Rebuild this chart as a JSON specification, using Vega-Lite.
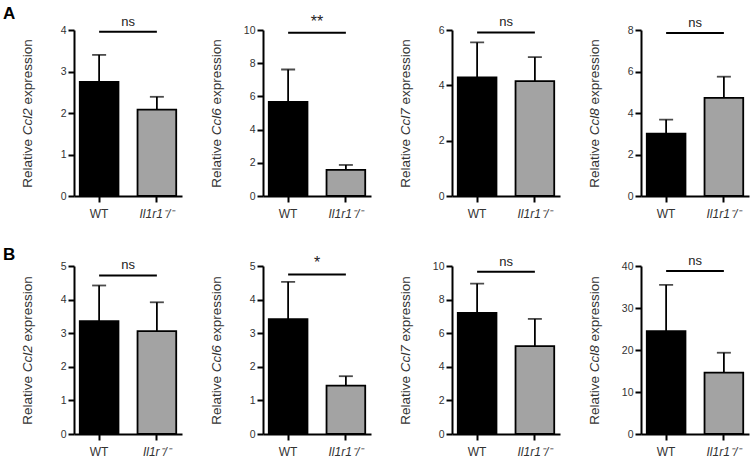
{
"$schema": "https://vega.github.io/schema/vega-lite/v6.json",
"padding": {"left": 3, "right": 3, "top": 4, "bottom": 2},
"background": "white",
"datasets": {
 "bars": [
  {"panel": "A1", "group": "WT", "value": 2.75, "upper": 3.40},
  {"panel": "A1", "group": "KO", "value": 2.08, "upper": 2.39},
  {"panel": "A2", "group": "WT", "value": 5.67, "upper": 7.62},
  {"panel": "A2", "group": "KO", "value": 1.57, "upper": 1.87},
  {"panel": "A3", "group": "WT", "value": 4.29, "upper": 5.55},
  {"panel": "A3", "group": "KO", "value": 4.15, "upper": 5.02},
  {"panel": "A4", "group": "WT", "value": 3.00, "upper": 3.68},
  {"panel": "A4", "group": "KO", "value": 4.73, "upper": 5.75},
  {"panel": "B1", "group": "WT", "value": 3.36, "upper": 4.42},
  {"panel": "B1", "group": "KO", "value": 3.06, "upper": 3.92},
  {"panel": "B2", "group": "WT", "value": 3.42, "upper": 4.53},
  {"panel": "B2", "group": "KO", "value": 1.44, "upper": 1.72},
  {"panel": "B3", "group": "WT", "value": 7.21, "upper": 8.95},
  {"panel": "B3", "group": "KO", "value": 5.23, "upper": 6.85},
  {"panel": "B4", "group": "WT", "value": 24.5, "upper": 35.5},
  {"panel": "B4", "group": "KO", "value": 14.6, "upper": 19.35}
 ],
 "sig": [
  {"panel": "A1", "x1": "WT", "x2": "KO", "y": 3.96, "label": "ns"},
  {"panel": "A2", "x1": "WT", "x2": "KO", "y": 9.84, "label": "**"},
  {"panel": "A3", "x1": "WT", "x2": "KO", "y": 5.91, "label": "ns"},
  {"panel": "A4", "x1": "WT", "x2": "KO", "y": 7.85, "label": "ns"},
  {"panel": "B1", "x1": "WT", "x2": "KO", "y": 4.72, "label": "ns"},
  {"panel": "B2", "x1": "WT", "x2": "KO", "y": 4.75, "label": "*"},
  {"panel": "B3", "x1": "WT", "x2": "KO", "y": 9.66, "label": "ns"},
  {"panel": "B4", "x1": "WT", "x2": "KO", "y": 38.8, "label": "ns"}
 ]
},
"vconcat": [
 {"title": {"text": "A", "anchor": "start", "fontSize": 17, "fontWeight": "bold", "font": "Liberation Sans", "dx": -17, "offset": -9, "color": "black"},
  "hconcat": [
   {"width": 108, "height": 166, "resolve": {"axis": {"y": "independent"}}, "layer": [
    {"data": {"name": "bars"}, "transform": [{"filter": "datum.panel === 'A1'"}], "mark": {"type": "bar", "stroke": "black", "strokeWidth": 1.8},
     "encoding": {"x": {"field": "group", "type": "nominal", "title": null, "scale": {"domain": ["WT", "KO"], "paddingInner": 0.33, "paddingOuter": 0.1}, "axis": {"labelExpr": "datum.value === 'WT' ? 'WT' : 'Il1r1⁻/⁻'", "labelFontStyle": {"condition": {"test": "datum.value === 'WT'", "value": "normal"}, "value": "italic"}}},
      "y": {"field": "value", "type": "quantitative", "scale": {"domain": [0, 4], "nice": false}, "axis": {"orient": "left", "values": [0, 1, 2, 3, 4], "format": "d", "tickCount": 12, "title": "Relative", "titleX": -40, "titleY": 157.27, "titleAlign": "left", "titleBaseline": "bottom", "titleAngle": -90}},
      "fill": {"field": "group", "type": "nominal", "scale": {"domain": ["WT", "KO"], "range": ["#000000", "#a3a3a3"]}, "legend": null}}},
    {"data": {"name": "bars"}, "transform": [{"filter": "datum.panel === 'A1'"}], "mark": {"type": "rule", "strokeWidth": 1.8, "color": "black"},
     "encoding": {"x": {"field": "group", "type": "nominal", "title": null}, "y": {"field": "value", "type": "quantitative", "axis": {"orient": "left", "labels": false, "ticks": false, "domain": false, "title": "Ccl2", "titleFontStyle": "italic", "titleX": -40, "titleY": 104.76, "titleAlign": "left", "titleBaseline": "bottom", "titleAngle": -90}}, "y2": {"field": "upper"}}},
    {"data": {"name": "bars"}, "transform": [{"filter": "datum.panel === 'A1'"}], "mark": {"type": "tick", "color": "black", "thickness": 1.8, "size": 14},
     "encoding": {"x": {"field": "group", "type": "nominal", "title": null}, "y": {"field": "upper", "type": "quantitative", "axis": {"orient": "left", "labels": false, "ticks": false, "domain": false, "title": "expression", "titleX": -40, "titleY": 74.0, "titleAlign": "left", "titleBaseline": "bottom", "titleAngle": -90}}}},
    {"data": {"name": "sig"}, "transform": [{"filter": "datum.panel === 'A1'"}], "mark": {"type": "rule", "strokeWidth": 2, "color": "black"},
     "encoding": {"x": {"field": "x1", "type": "nominal", "title": null}, "x2": {"field": "x2"}, "y": {"field": "y", "type": "quantitative", "axis": null}}},
    {"data": {"name": "sig"}, "transform": [{"filter": "datum.panel === 'A1'"}], "mark": {"type": "text", "baseline": "bottom", "dx": 28.9, "dy": -3, "font": "Liberation Sans", "color": "#222"},
     "encoding": {"x": {"field": "x1", "type": "nominal", "title": null}, "y": {"field": "y", "type": "quantitative", "axis": null}, "text": {"field": "label"}, "size": {"condition": {"test": "datum.label !== 'ns'", "value": 16}, "value": 13}}}
   ]},
   {"width": 108, "height": 166, "resolve": {"axis": {"y": "independent"}}, "layer": [
    {"data": {"name": "bars"}, "transform": [{"filter": "datum.panel === 'A2'"}], "mark": {"type": "bar", "stroke": "black", "strokeWidth": 1.8},
     "encoding": {"x": {"field": "group", "type": "nominal", "title": null, "scale": {"domain": ["WT", "KO"], "paddingInner": 0.33, "paddingOuter": 0.1}, "axis": {"labelExpr": "datum.value === 'WT' ? 'WT' : 'Il1r1⁻/⁻'", "labelFontStyle": {"condition": {"test": "datum.value === 'WT'", "value": "normal"}, "value": "italic"}}},
      "y": {"field": "value", "type": "quantitative", "scale": {"domain": [0, 10], "nice": false}, "axis": {"orient": "left", "values": [0, 2, 4, 6, 8, 10], "format": "d", "tickCount": 12, "title": "Relative", "titleX": -40, "titleY": 157.27, "titleAlign": "left", "titleBaseline": "bottom", "titleAngle": -90}},
      "fill": {"field": "group", "type": "nominal", "scale": {"domain": ["WT", "KO"], "range": ["#000000", "#a3a3a3"]}, "legend": null}}},
    {"data": {"name": "bars"}, "transform": [{"filter": "datum.panel === 'A2'"}], "mark": {"type": "rule", "strokeWidth": 1.8, "color": "black"},
     "encoding": {"x": {"field": "group", "type": "nominal", "title": null}, "y": {"field": "value", "type": "quantitative", "axis": {"orient": "left", "labels": false, "ticks": false, "domain": false, "title": "Ccl6", "titleFontStyle": "italic", "titleX": -40, "titleY": 104.76, "titleAlign": "left", "titleBaseline": "bottom", "titleAngle": -90}}, "y2": {"field": "upper"}}},
    {"data": {"name": "bars"}, "transform": [{"filter": "datum.panel === 'A2'"}], "mark": {"type": "tick", "color": "black", "thickness": 1.8, "size": 14},
     "encoding": {"x": {"field": "group", "type": "nominal", "title": null}, "y": {"field": "upper", "type": "quantitative", "axis": {"orient": "left", "labels": false, "ticks": false, "domain": false, "title": "expression", "titleX": -40, "titleY": 74.0, "titleAlign": "left", "titleBaseline": "bottom", "titleAngle": -90}}}},
    {"data": {"name": "sig"}, "transform": [{"filter": "datum.panel === 'A2'"}], "mark": {"type": "rule", "strokeWidth": 2, "color": "black"},
     "encoding": {"x": {"field": "x1", "type": "nominal", "title": null}, "x2": {"field": "x2"}, "y": {"field": "y", "type": "quantitative", "axis": null}}},
    {"data": {"name": "sig"}, "transform": [{"filter": "datum.panel === 'A2'"}], "mark": {"type": "text", "baseline": "bottom", "dx": 28.9, "dy": -3, "font": "Liberation Sans", "color": "#222"},
     "encoding": {"x": {"field": "x1", "type": "nominal", "title": null}, "y": {"field": "y", "type": "quantitative", "axis": null}, "text": {"field": "label"}, "size": {"condition": {"test": "datum.label !== 'ns'", "value": 16}, "value": 13}}}
   ]},
   {"width": 108, "height": 166, "resolve": {"axis": {"y": "independent"}}, "layer": [
    {"data": {"name": "bars"}, "transform": [{"filter": "datum.panel === 'A3'"}], "mark": {"type": "bar", "stroke": "black", "strokeWidth": 1.8},
     "encoding": {"x": {"field": "group", "type": "nominal", "title": null, "scale": {"domain": ["WT", "KO"], "paddingInner": 0.33, "paddingOuter": 0.1}, "axis": {"labelExpr": "datum.value === 'WT' ? 'WT' : 'Il1r1⁻/⁻'", "labelFontStyle": {"condition": {"test": "datum.value === 'WT'", "value": "normal"}, "value": "italic"}}},
      "y": {"field": "value", "type": "quantitative", "scale": {"domain": [0, 6], "nice": false}, "axis": {"orient": "left", "values": [0, 2, 4, 6], "format": "d", "tickCount": 12, "title": "Relative", "titleX": -40, "titleY": 157.27, "titleAlign": "left", "titleBaseline": "bottom", "titleAngle": -90}},
      "fill": {"field": "group", "type": "nominal", "scale": {"domain": ["WT", "KO"], "range": ["#000000", "#a3a3a3"]}, "legend": null}}},
    {"data": {"name": "bars"}, "transform": [{"filter": "datum.panel === 'A3'"}], "mark": {"type": "rule", "strokeWidth": 1.8, "color": "black"},
     "encoding": {"x": {"field": "group", "type": "nominal", "title": null}, "y": {"field": "value", "type": "quantitative", "axis": {"orient": "left", "labels": false, "ticks": false, "domain": false, "title": "Ccl7", "titleFontStyle": "italic", "titleX": -40, "titleY": 104.76, "titleAlign": "left", "titleBaseline": "bottom", "titleAngle": -90}}, "y2": {"field": "upper"}}},
    {"data": {"name": "bars"}, "transform": [{"filter": "datum.panel === 'A3'"}], "mark": {"type": "tick", "color": "black", "thickness": 1.8, "size": 14},
     "encoding": {"x": {"field": "group", "type": "nominal", "title": null}, "y": {"field": "upper", "type": "quantitative", "axis": {"orient": "left", "labels": false, "ticks": false, "domain": false, "title": "expression", "titleX": -40, "titleY": 74.0, "titleAlign": "left", "titleBaseline": "bottom", "titleAngle": -90}}}},
    {"data": {"name": "sig"}, "transform": [{"filter": "datum.panel === 'A3'"}], "mark": {"type": "rule", "strokeWidth": 2, "color": "black"},
     "encoding": {"x": {"field": "x1", "type": "nominal", "title": null}, "x2": {"field": "x2"}, "y": {"field": "y", "type": "quantitative", "axis": null}}},
    {"data": {"name": "sig"}, "transform": [{"filter": "datum.panel === 'A3'"}], "mark": {"type": "text", "baseline": "bottom", "dx": 28.9, "dy": -3, "font": "Liberation Sans", "color": "#222"},
     "encoding": {"x": {"field": "x1", "type": "nominal", "title": null}, "y": {"field": "y", "type": "quantitative", "axis": null}, "text": {"field": "label"}, "size": {"condition": {"test": "datum.label !== 'ns'", "value": 16}, "value": 13}}}
   ]},
   {"width": 108, "height": 166, "resolve": {"axis": {"y": "independent"}}, "layer": [
    {"data": {"name": "bars"}, "transform": [{"filter": "datum.panel === 'A4'"}], "mark": {"type": "bar", "stroke": "black", "strokeWidth": 1.8},
     "encoding": {"x": {"field": "group", "type": "nominal", "title": null, "scale": {"domain": ["WT", "KO"], "paddingInner": 0.33, "paddingOuter": 0.1}, "axis": {"labelExpr": "datum.value === 'WT' ? 'WT' : 'Il1r1⁻/⁻'", "labelFontStyle": {"condition": {"test": "datum.value === 'WT'", "value": "normal"}, "value": "italic"}}},
      "y": {"field": "value", "type": "quantitative", "scale": {"domain": [0, 8], "nice": false}, "axis": {"orient": "left", "values": [0, 2, 4, 6, 8], "format": "d", "tickCount": 12, "title": "Relative", "titleX": -40, "titleY": 157.27, "titleAlign": "left", "titleBaseline": "bottom", "titleAngle": -90}},
      "fill": {"field": "group", "type": "nominal", "scale": {"domain": ["WT", "KO"], "range": ["#000000", "#a3a3a3"]}, "legend": null}}},
    {"data": {"name": "bars"}, "transform": [{"filter": "datum.panel === 'A4'"}], "mark": {"type": "rule", "strokeWidth": 1.8, "color": "black"},
     "encoding": {"x": {"field": "group", "type": "nominal", "title": null}, "y": {"field": "value", "type": "quantitative", "axis": {"orient": "left", "labels": false, "ticks": false, "domain": false, "title": "Ccl8", "titleFontStyle": "italic", "titleX": -40, "titleY": 104.76, "titleAlign": "left", "titleBaseline": "bottom", "titleAngle": -90}}, "y2": {"field": "upper"}}},
    {"data": {"name": "bars"}, "transform": [{"filter": "datum.panel === 'A4'"}], "mark": {"type": "tick", "color": "black", "thickness": 1.8, "size": 14},
     "encoding": {"x": {"field": "group", "type": "nominal", "title": null}, "y": {"field": "upper", "type": "quantitative", "axis": {"orient": "left", "labels": false, "ticks": false, "domain": false, "title": "expression", "titleX": -40, "titleY": 74.0, "titleAlign": "left", "titleBaseline": "bottom", "titleAngle": -90}}}},
    {"data": {"name": "sig"}, "transform": [{"filter": "datum.panel === 'A4'"}], "mark": {"type": "rule", "strokeWidth": 2, "color": "black"},
     "encoding": {"x": {"field": "x1", "type": "nominal", "title": null}, "x2": {"field": "x2"}, "y": {"field": "y", "type": "quantitative", "axis": null}}},
    {"data": {"name": "sig"}, "transform": [{"filter": "datum.panel === 'A4'"}], "mark": {"type": "text", "baseline": "bottom", "dx": 28.9, "dy": -3, "font": "Liberation Sans", "color": "#222"},
     "encoding": {"x": {"field": "x1", "type": "nominal", "title": null}, "y": {"field": "y", "type": "quantitative", "axis": null}, "text": {"field": "label"}, "size": {"condition": {"test": "datum.label !== 'ns'", "value": 16}, "value": 13}}}
   ]}
  ]},
 {"title": {"text": "B", "anchor": "start", "fontSize": 17, "fontWeight": "bold", "font": "Liberation Sans", "dx": -17, "offset": -9, "color": "black"},
  "hconcat": [
   {"width": 108, "height": 168, "resolve": {"axis": {"y": "independent"}}, "layer": [
    {"data": {"name": "bars"}, "transform": [{"filter": "datum.panel === 'B1'"}], "mark": {"type": "bar", "stroke": "black", "strokeWidth": 1.8},
     "encoding": {"x": {"field": "group", "type": "nominal", "title": null, "scale": {"domain": ["WT", "KO"], "paddingInner": 0.33, "paddingOuter": 0.1}, "axis": {"labelExpr": "datum.value === 'WT' ? 'WT' : 'Il1r⁻/⁻'", "labelFontStyle": {"condition": {"test": "datum.value === 'WT'", "value": "normal"}, "value": "italic"}}},
      "y": {"field": "value", "type": "quantitative", "scale": {"domain": [0, 5], "nice": false}, "axis": {"orient": "left", "values": [0, 1, 2, 3, 4, 5], "format": "d", "tickCount": 12, "title": "Relative", "titleX": -40, "titleY": 158.27, "titleAlign": "left", "titleBaseline": "bottom", "titleAngle": -90}},
      "fill": {"field": "group", "type": "nominal", "scale": {"domain": ["WT", "KO"], "range": ["#000000", "#a3a3a3"]}, "legend": null}}},
    {"data": {"name": "bars"}, "transform": [{"filter": "datum.panel === 'B1'"}], "mark": {"type": "rule", "strokeWidth": 1.8, "color": "black"},
     "encoding": {"x": {"field": "group", "type": "nominal", "title": null}, "y": {"field": "value", "type": "quantitative", "axis": {"orient": "left", "labels": false, "ticks": false, "domain": false, "title": "Ccl2", "titleFontStyle": "italic", "titleX": -40, "titleY": 105.76, "titleAlign": "left", "titleBaseline": "bottom", "titleAngle": -90}}, "y2": {"field": "upper"}}},
    {"data": {"name": "bars"}, "transform": [{"filter": "datum.panel === 'B1'"}], "mark": {"type": "tick", "color": "black", "thickness": 1.8, "size": 14},
     "encoding": {"x": {"field": "group", "type": "nominal", "title": null}, "y": {"field": "upper", "type": "quantitative", "axis": {"orient": "left", "labels": false, "ticks": false, "domain": false, "title": "expression", "titleX": -40, "titleY": 75.0, "titleAlign": "left", "titleBaseline": "bottom", "titleAngle": -90}}}},
    {"data": {"name": "sig"}, "transform": [{"filter": "datum.panel === 'B1'"}], "mark": {"type": "rule", "strokeWidth": 2, "color": "black"},
     "encoding": {"x": {"field": "x1", "type": "nominal", "title": null}, "x2": {"field": "x2"}, "y": {"field": "y", "type": "quantitative", "axis": null}}},
    {"data": {"name": "sig"}, "transform": [{"filter": "datum.panel === 'B1'"}], "mark": {"type": "text", "baseline": "bottom", "dx": 28.9, "dy": -3, "font": "Liberation Sans", "color": "#222"},
     "encoding": {"x": {"field": "x1", "type": "nominal", "title": null}, "y": {"field": "y", "type": "quantitative", "axis": null}, "text": {"field": "label"}, "size": {"condition": {"test": "datum.label !== 'ns'", "value": 16}, "value": 13}}}
   ]},
   {"width": 108, "height": 168, "resolve": {"axis": {"y": "independent"}}, "layer": [
    {"data": {"name": "bars"}, "transform": [{"filter": "datum.panel === 'B2'"}], "mark": {"type": "bar", "stroke": "black", "strokeWidth": 1.8},
     "encoding": {"x": {"field": "group", "type": "nominal", "title": null, "scale": {"domain": ["WT", "KO"], "paddingInner": 0.33, "paddingOuter": 0.1}, "axis": {"labelExpr": "datum.value === 'WT' ? 'WT' : 'Il1r1⁻/⁻'", "labelFontStyle": {"condition": {"test": "datum.value === 'WT'", "value": "normal"}, "value": "italic"}}},
      "y": {"field": "value", "type": "quantitative", "scale": {"domain": [0, 5], "nice": false}, "axis": {"orient": "left", "values": [0, 1, 2, 3, 4, 5], "format": "d", "tickCount": 12, "title": "Relative", "titleX": -40, "titleY": 158.27, "titleAlign": "left", "titleBaseline": "bottom", "titleAngle": -90}},
      "fill": {"field": "group", "type": "nominal", "scale": {"domain": ["WT", "KO"], "range": ["#000000", "#a3a3a3"]}, "legend": null}}},
    {"data": {"name": "bars"}, "transform": [{"filter": "datum.panel === 'B2'"}], "mark": {"type": "rule", "strokeWidth": 1.8, "color": "black"},
     "encoding": {"x": {"field": "group", "type": "nominal", "title": null}, "y": {"field": "value", "type": "quantitative", "axis": {"orient": "left", "labels": false, "ticks": false, "domain": false, "title": "Ccl6", "titleFontStyle": "italic", "titleX": -40, "titleY": 105.76, "titleAlign": "left", "titleBaseline": "bottom", "titleAngle": -90}}, "y2": {"field": "upper"}}},
    {"data": {"name": "bars"}, "transform": [{"filter": "datum.panel === 'B2'"}], "mark": {"type": "tick", "color": "black", "thickness": 1.8, "size": 14},
     "encoding": {"x": {"field": "group", "type": "nominal", "title": null}, "y": {"field": "upper", "type": "quantitative", "axis": {"orient": "left", "labels": false, "ticks": false, "domain": false, "title": "expression", "titleX": -40, "titleY": 75.0, "titleAlign": "left", "titleBaseline": "bottom", "titleAngle": -90}}}},
    {"data": {"name": "sig"}, "transform": [{"filter": "datum.panel === 'B2'"}], "mark": {"type": "rule", "strokeWidth": 2, "color": "black"},
     "encoding": {"x": {"field": "x1", "type": "nominal", "title": null}, "x2": {"field": "x2"}, "y": {"field": "y", "type": "quantitative", "axis": null}}},
    {"data": {"name": "sig"}, "transform": [{"filter": "datum.panel === 'B2'"}], "mark": {"type": "text", "baseline": "bottom", "dx": 28.9, "dy": -3, "font": "Liberation Sans", "color": "#222"},
     "encoding": {"x": {"field": "x1", "type": "nominal", "title": null}, "y": {"field": "y", "type": "quantitative", "axis": null}, "text": {"field": "label"}, "size": {"condition": {"test": "datum.label !== 'ns'", "value": 16}, "value": 13}}}
   ]},
   {"width": 108, "height": 168, "resolve": {"axis": {"y": "independent"}}, "layer": [
    {"data": {"name": "bars"}, "transform": [{"filter": "datum.panel === 'B3'"}], "mark": {"type": "bar", "stroke": "black", "strokeWidth": 1.8},
     "encoding": {"x": {"field": "group", "type": "nominal", "title": null, "scale": {"domain": ["WT", "KO"], "paddingInner": 0.33, "paddingOuter": 0.1}, "axis": {"labelExpr": "datum.value === 'WT' ? 'WT' : 'Il1r1⁻/⁻'", "labelFontStyle": {"condition": {"test": "datum.value === 'WT'", "value": "normal"}, "value": "italic"}}},
      "y": {"field": "value", "type": "quantitative", "scale": {"domain": [0, 10], "nice": false}, "axis": {"orient": "left", "values": [0, 2, 4, 6, 8, 10], "format": "d", "tickCount": 12, "title": "Relative", "titleX": -40, "titleY": 158.27, "titleAlign": "left", "titleBaseline": "bottom", "titleAngle": -90}},
      "fill": {"field": "group", "type": "nominal", "scale": {"domain": ["WT", "KO"], "range": ["#000000", "#a3a3a3"]}, "legend": null}}},
    {"data": {"name": "bars"}, "transform": [{"filter": "datum.panel === 'B3'"}], "mark": {"type": "rule", "strokeWidth": 1.8, "color": "black"},
     "encoding": {"x": {"field": "group", "type": "nominal", "title": null}, "y": {"field": "value", "type": "quantitative", "axis": {"orient": "left", "labels": false, "ticks": false, "domain": false, "title": "Ccl7", "titleFontStyle": "italic", "titleX": -40, "titleY": 105.76, "titleAlign": "left", "titleBaseline": "bottom", "titleAngle": -90}}, "y2": {"field": "upper"}}},
    {"data": {"name": "bars"}, "transform": [{"filter": "datum.panel === 'B3'"}], "mark": {"type": "tick", "color": "black", "thickness": 1.8, "size": 14},
     "encoding": {"x": {"field": "group", "type": "nominal", "title": null}, "y": {"field": "upper", "type": "quantitative", "axis": {"orient": "left", "labels": false, "ticks": false, "domain": false, "title": "expression", "titleX": -40, "titleY": 75.0, "titleAlign": "left", "titleBaseline": "bottom", "titleAngle": -90}}}},
    {"data": {"name": "sig"}, "transform": [{"filter": "datum.panel === 'B3'"}], "mark": {"type": "rule", "strokeWidth": 2, "color": "black"},
     "encoding": {"x": {"field": "x1", "type": "nominal", "title": null}, "x2": {"field": "x2"}, "y": {"field": "y", "type": "quantitative", "axis": null}}},
    {"data": {"name": "sig"}, "transform": [{"filter": "datum.panel === 'B3'"}], "mark": {"type": "text", "baseline": "bottom", "dx": 28.9, "dy": -3, "font": "Liberation Sans", "color": "#222"},
     "encoding": {"x": {"field": "x1", "type": "nominal", "title": null}, "y": {"field": "y", "type": "quantitative", "axis": null}, "text": {"field": "label"}, "size": {"condition": {"test": "datum.label !== 'ns'", "value": 16}, "value": 13}}}
   ]},
   {"width": 108, "height": 168, "resolve": {"axis": {"y": "independent"}}, "layer": [
    {"data": {"name": "bars"}, "transform": [{"filter": "datum.panel === 'B4'"}], "mark": {"type": "bar", "stroke": "black", "strokeWidth": 1.8},
     "encoding": {"x": {"field": "group", "type": "nominal", "title": null, "scale": {"domain": ["WT", "KO"], "paddingInner": 0.33, "paddingOuter": 0.1}, "axis": {"labelExpr": "datum.value === 'WT' ? 'WT' : 'Il1r1⁻/⁻'", "labelFontStyle": {"condition": {"test": "datum.value === 'WT'", "value": "normal"}, "value": "italic"}}},
      "y": {"field": "value", "type": "quantitative", "scale": {"domain": [0, 40], "nice": false}, "axis": {"orient": "left", "values": [0, 10, 20, 30, 40], "format": "d", "tickCount": 12, "title": "Relative", "titleX": -40, "titleY": 158.27, "titleAlign": "left", "titleBaseline": "bottom", "titleAngle": -90}},
      "fill": {"field": "group", "type": "nominal", "scale": {"domain": ["WT", "KO"], "range": ["#000000", "#a3a3a3"]}, "legend": null}}},
    {"data": {"name": "bars"}, "transform": [{"filter": "datum.panel === 'B4'"}], "mark": {"type": "rule", "strokeWidth": 1.8, "color": "black"},
     "encoding": {"x": {"field": "group", "type": "nominal", "title": null}, "y": {"field": "value", "type": "quantitative", "axis": {"orient": "left", "labels": false, "ticks": false, "domain": false, "title": "Ccl8", "titleFontStyle": "italic", "titleX": -40, "titleY": 105.76, "titleAlign": "left", "titleBaseline": "bottom", "titleAngle": -90}}, "y2": {"field": "upper"}}},
    {"data": {"name": "bars"}, "transform": [{"filter": "datum.panel === 'B4'"}], "mark": {"type": "tick", "color": "black", "thickness": 1.8, "size": 14},
     "encoding": {"x": {"field": "group", "type": "nominal", "title": null}, "y": {"field": "upper", "type": "quantitative", "axis": {"orient": "left", "labels": false, "ticks": false, "domain": false, "title": "expression", "titleX": -40, "titleY": 75.0, "titleAlign": "left", "titleBaseline": "bottom", "titleAngle": -90}}}},
    {"data": {"name": "sig"}, "transform": [{"filter": "datum.panel === 'B4'"}], "mark": {"type": "rule", "strokeWidth": 2, "color": "black"},
     "encoding": {"x": {"field": "x1", "type": "nominal", "title": null}, "x2": {"field": "x2"}, "y": {"field": "y", "type": "quantitative", "axis": null}}},
    {"data": {"name": "sig"}, "transform": [{"filter": "datum.panel === 'B4'"}], "mark": {"type": "text", "baseline": "bottom", "dx": 28.9, "dy": -3, "font": "Liberation Sans", "color": "#222"},
     "encoding": {"x": {"field": "x1", "type": "nominal", "title": null}, "y": {"field": "y", "type": "quantitative", "axis": null}, "text": {"field": "label"}, "size": {"condition": {"test": "datum.label !== 'ns'", "value": 16}, "value": 13}}}
   ]}
  ]}
],
"config": {
 "view": {"stroke": null},
 "concat": {"spacing": 27},
 "font": "Liberation Sans",
 "axis": {"grid": false, "domainColor": "black", "domainWidth": 2, "tickColor": "black", "tickWidth": 2, "tickSize": 6, "labelFont": "Liberation Sans", "labelColor": "#333", "titleFont": "Liberation Sans", "titleFontWeight": "normal", "titleColor": "#333", "titleFontSize": 13.5},
 "axisX": {"labelAngle": 0, "labelFontSize": 12, "labelPadding": 6},
 "axisY": {"labelFontSize": 10.5, "labelPadding": 2}
}
}
